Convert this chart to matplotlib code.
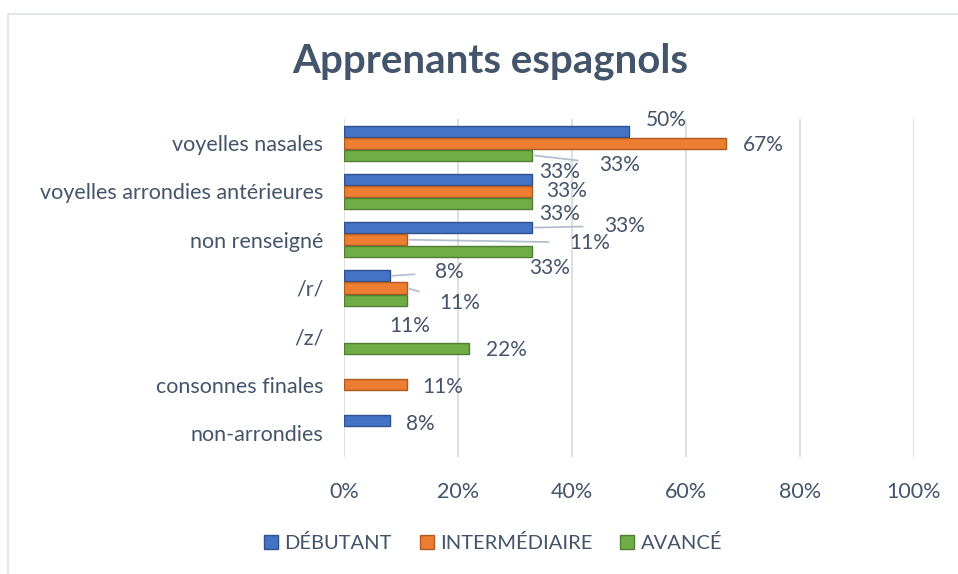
import numpy as np
import matplotlib
matplotlib.use("Agg")
import matplotlib.pyplot as plt
from matplotlib.patches import Rectangle

categories = ["voyelles nasales", "voyelles arrondies antérieures", "non renseigné",
              "/r/", "/z/", "consonnes finales", "non-arrondies"]
series = ["DÉBUTANT", "INTERMÉDIAIRE", "AVANCÉ"]
debutant = [0.50, 0.33, 0.33, 0.08, 0, 0, 0.08]
intermediaire = [0.67, 0.33, 0.11, 0.11, 0, 0.11, 0]
avance = [0.33, 0.33, 0.33, 0.11, 0.22, 0, 0]
xticks = [0, 0.2, 0.4, 0.6, 0.8, 1.0]
xticklabels = ["0%", "20%", "40%", "60%", "80%", "100%"]

# label offsets in pixels (dx, dy down) from bar end, and whether a leader line is drawn
label_offsets = [
    [(37, -11, False), (37, 2, False), (87, 10, True)],
    [(27, -7, False), (34, 0, False), (27, 10, False)],
    [(92, -2, True), (183, 3, True), (17, 16, False)],
    [(60, -4, True), (53, 15, True), (3, 26, False)],
    [None, None, (37, 2, False)],
    [None, (36, 2, False), None],
    [(31, 3, False), None, None],
]

colors = ["#4472C4", "#ED7D31", "#70AD47"]
edges = ["#2F528F", "#AE5A21", "#507E32"]
txt = "#44546A"

plt.rcParams['font.family'] = ['Lato', 'DejaVu Sans']

fig = plt.figure(figsize=(9.58, 5.74), dpi=100)
fig.patches.append(Rectangle((8 / 958, -0.1), 1.2, (574 - 14) / 574 + 0.1,
                             transform=fig.transFigure, fill=False,
                             edgecolor="#DDE1E6", linewidth=1.2))
ax = fig.add_axes([344 / 958, 1 - 457 / 574, 570 / 958, 338 / 574])

y = np.arange(len(categories))
h = 0.25
data = [debutant, intermediaire, avance]
for i, vals in enumerate(data):
    vals = np.array(vals)
    ypos = y + (i - 1) * h
    nz = vals > 0
    ax.barh(ypos[nz], vals[nz], height=h * 0.92, color=colors[i], edgecolor=edges[i],
            linewidth=1.0, label=series[i], zorder=3)
    for j, v in enumerate(vals):
        off = label_offsets[j][i]
        if off is None or v == 0:
            continue
        dx, dy, lead = off
        dx_pt = dx * 0.72
        dy_pt = -dy * 0.72
        arrow = None
        if lead:
            arrow = dict(arrowstyle="-", color="#B4C0CF", lw=1.3, shrinkA=13, shrinkB=2)
        ax.annotate(f"{round(v * 100)}%", xy=(v, ypos[j]), xytext=(dx_pt, dy_pt),
                    textcoords="offset points", ha="center", va="center",
                    fontsize=15, color=txt, arrowprops=arrow)

ax.set_xlim(0, 1)
ax.set_ylim(len(categories) - 0.5, -0.5)
ax.set_yticks(y)
ax.set_yticklabels(categories, fontsize=15.5, color=txt)
ax.set_xticks(xticks)
ax.set_xticklabels(xticklabels, fontsize=15.5, color=txt)
ax.tick_params(length=0)
ax.tick_params(axis="x", pad=18)
ax.tick_params(axis="y", pad=15)
ax.grid(axis="x", color="#D9D9D9", linewidth=1.2, zorder=0)
for s in ax.spines.values():
    s.set_visible(False)

fig.text(490 / 958, 1 - 61 / 574, "Apprenants espagnols", ha="center", va="center",
         fontsize=29, fontweight="bold", color=txt)

fig.legend(loc="center", bbox_to_anchor=(493 / 958, 1 - 543 / 574), ncol=3,
           frameon=False, fontsize=14.5, labelcolor=txt, handlelength=0.7,
           handleheight=0.7, columnspacing=1.4, handletextpad=0.3)

fig.savefig("out.png", dpi=100)
